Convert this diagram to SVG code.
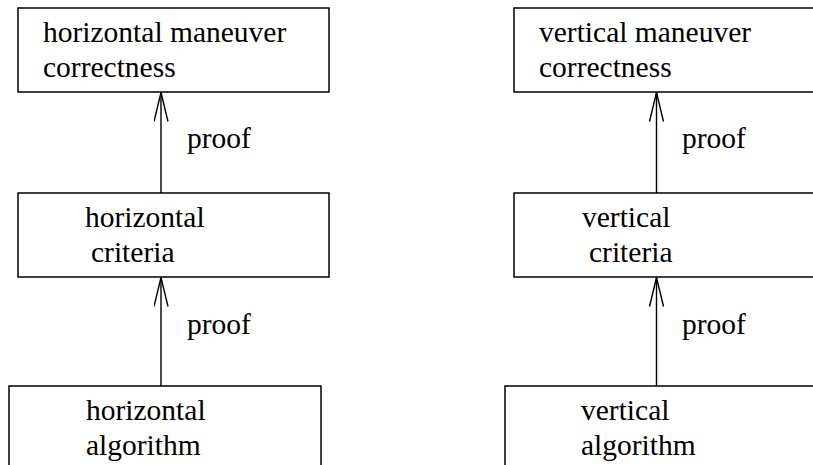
<svg xmlns="http://www.w3.org/2000/svg" width="813" height="465" viewBox="0 0 813 465">
<defs>
<style>
.box{fill:none;stroke:#000;stroke-width:1.5}
.t{font-family:"Liberation Serif","Times New Roman",serif;font-size:29.5px;fill:#000}
.c{stroke:#000;stroke-width:1.4;fill:none}
</style>
<marker id="ah" markerUnits="userSpaceOnUse" markerWidth="30" markerHeight="15" refX="29" refY="7.5" orient="auto" viewBox="0 0 30 15">
<path d="M0,0.5 L29,7.5 L0,14.5" fill="none" stroke="#000" stroke-width="1.4"/>
</marker>
</defs>
<rect width="813" height="465" fill="#fff"/>
<g id="h-correct"><rect class="box" x="18" y="8" width="311" height="84"/><text class="t" x="43" y="42">horizontal maneuver</text><text class="t" x="43" y="77">correctness</text></g>
<g id="h-criteria"><rect class="box" x="18" y="193" width="311" height="84"/><text class="t" x="85" y="227">horizontal</text><text class="t" x="91" y="262">criteria</text></g>
<g id="h-algo"><rect class="box" x="9" y="386" width="312" height="100"/><text class="t" x="86" y="420">horizontal</text><text class="t" x="86" y="455">algorithm</text></g>
<g id="v-correct"><rect class="box" x="514" y="8" width="320" height="84"/><text class="t" x="539" y="42">vertical maneuver</text><text class="t" x="539" y="77">correctness</text></g>
<g id="v-criteria"><rect class="box" x="514" y="193" width="320" height="84"/><text class="t" x="582" y="227">vertical</text><text class="t" x="589" y="262">criteria</text></g>
<g id="v-algo"><rect class="box" x="505" y="386" width="330" height="100"/><text class="t" x="581" y="420">vertical</text><text class="t" x="581" y="455">algorithm</text></g>
<g id="connectors">
<line class="c" x1="161" y1="193" x2="161" y2="92.5" marker-end="url(#ah)"/>
<line class="c" x1="161" y1="386" x2="161" y2="277.5" marker-end="url(#ah)"/>
<line class="c" x1="656.5" y1="193" x2="656.5" y2="92.5" marker-end="url(#ah)"/>
<line class="c" x1="656.5" y1="386" x2="656.5" y2="277.5" marker-end="url(#ah)"/>
<text class="t" x="187" y="148">proof</text>
<text class="t" x="187" y="334">proof</text>
<text class="t" x="682" y="148">proof</text>
<text class="t" x="682" y="334">proof</text>
</g>
</svg>
